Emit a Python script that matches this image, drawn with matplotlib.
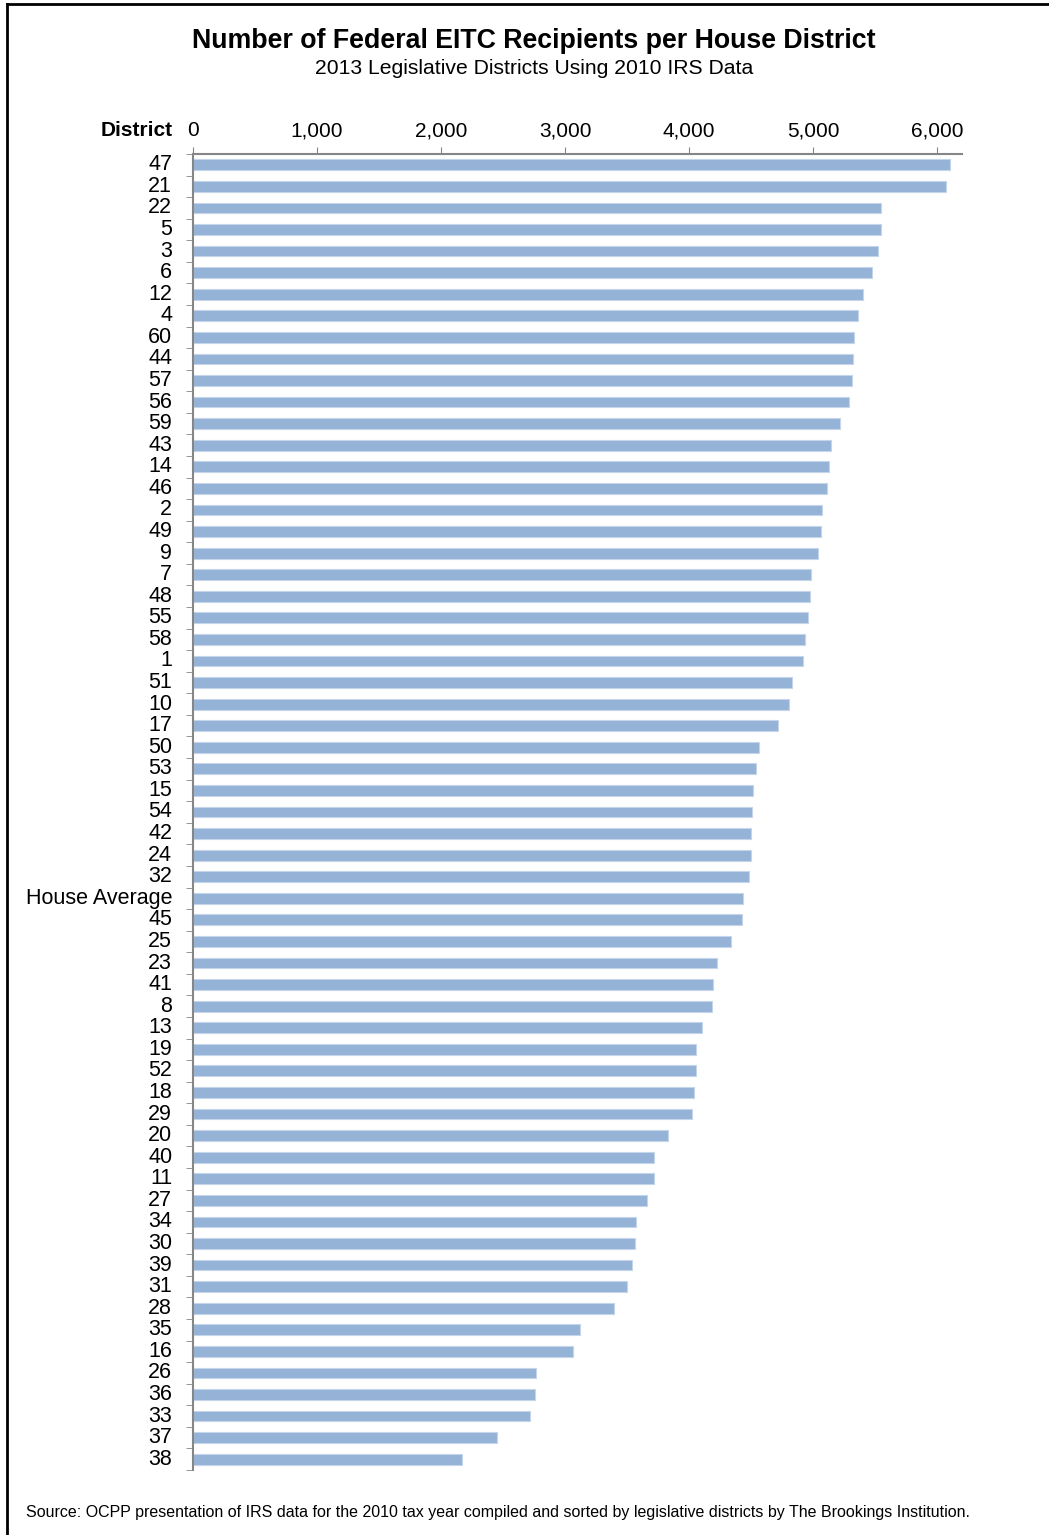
import matplotlib.pyplot as plt
from matplotlib.lines import Line2D

plt.rcParams['font.family'] = ['Liberation Sans', 'DejaVu Sans']

districts = ['47', '21', '22', '5', '3', '6', '12', '4', '60', '44', '57', '56', '59', '43',
             '14', '46', '2', '49', '9', '7', '48', '55', '58', '1', '51', '10', '17', '50',
             '53', '15', '54', '42', '24', '32', 'House Average', '45', '25', '23', '41', '8',
             '13', '19', '52', '18', '29', '20', '40', '11', '27', '34', '30', '39', '31',
             '28', '35', '16', '26', '36', '33', '37', '38']
recipients = [6103, 6071, 5548, 5548, 5523, 5475, 5403, 5362, 5330, 5322, 5314, 5290, 5217, 5145,
              5129, 5113, 5072, 5064, 5040, 4984, 4976, 4960, 4936, 4919, 4831, 4807, 4718, 4565,
              4541, 4517, 4509, 4501, 4501, 4485, 4436, 4428, 4340, 4227, 4195, 4187,
              4106, 4058, 4058, 4042, 4026, 3833, 3720, 3720, 3663, 3575, 3567, 3543, 3502,
              3398, 3124, 3060, 2762, 2754, 2721, 2448, 2166]
xticks = [0, 1000, 2000, 3000, 4000, 5000, 6000]

W, H = 1049, 1535
fig = plt.figure(figsize=(W / 100, H / 100), dpi=100)
ax = fig.add_axes([193 / W, 1 - 1470 / H, (962 - 193) / W, (1470 - 154) / H])

ypos = list(range(len(districts)))
ax.barh(ypos, recipients, height=0.5, color='#95b3d7', edgecolor='#c6d6ea', linewidth=0.8)

ax.set_xlim(0, 6200)
ax.set_ylim(len(districts) - 0.5, -0.5)
ax.xaxis.tick_top()
ax.set_xticks(xticks)
ax.set_xticklabels([f'{v:,}' for v in xticks], fontsize=15)
ax.tick_params(axis='x', length=5, color='#868686', pad=5)

ax.set_yticks(ypos)
ax.set_yticklabels(districts, fontsize=15.5, va='center')
# tick marks between categories
ax.set_yticks([i + 0.5 for i in ypos[:-1]] + [-0.5, len(districts) - 0.5], minor=True)
ax.tick_params(axis='y', which='minor', length=5, color='#868686')
ax.tick_params(axis='y', which='major', length=0, pad=15)

for s in ['right', 'bottom']:
    ax.spines[s].set_visible(False)
for s in ['top', 'left']:
    ax.spines[s].set_color('#868686')
    ax.spines[s].set_linewidth(1.5)

fig.text(193 / W - 20 / W, 1 - 130 / H, 'District', ha='right', va='center',
         fontsize=15, fontweight='bold')
fig.text(534 / W, 1 - 41 / H, 'Number of Federal EITC Recipients per House District',
         ha='center', va='center', fontsize=19.3, fontweight='bold')
fig.text(534 / W, 1 - 68 / H, '2013 Legislative Districts Using 2010 IRS Data',
         ha='center', va='center', fontsize=15.2)
fig.text(26 / W, 1 - 1513 / H,
         'Source: OCPP presentation of IRS data for the 2010 tax year compiled and sorted by '
         'legislative districts by The Brookings Institution.',
         ha='left', va='center', fontsize=11.55)

# outer frame (left and top edges)
fig.add_artist(Line2D([7 / W, 7 / W], [0, 1 - 4 / H], color='black', linewidth=2,
                      transform=fig.transFigure))
fig.add_artist(Line2D([7 / W, 1], [1 - 4 / H, 1 - 4 / H], color='black', linewidth=2,
                      transform=fig.transFigure))

fig.savefig('out.png', dpi=100)
